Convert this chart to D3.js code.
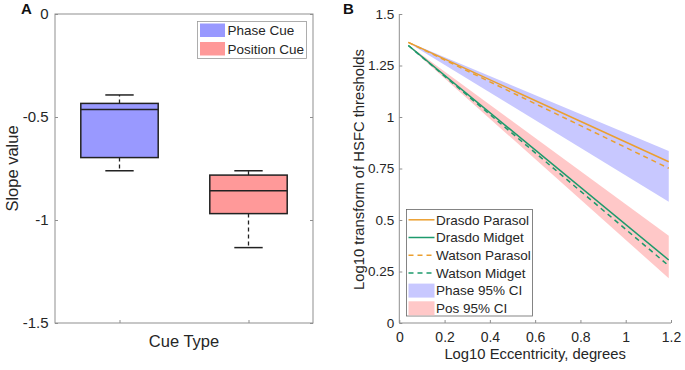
<!DOCTYPE html>
<html>
<head>
<meta charset="utf-8">
<script src="https://cdn.jsdelivr.net/npm/d3@7"></script>
<style>
  body { margin: 0; background: #fff; }
  svg { display: block; font-family: "Liberation Sans", Arial, sans-serif; }
</style>
</head>
<body>
<svg id="chart" width="685" height="370"></svg>
<script>
// ---- panel A data: box stats [lowWhisker, q1, median, q3, highWhisker]
var cueTypes = ["Phase Cue", "Position Cue"];
var phaseBox = [-0.761, -0.697, -0.464, -0.434, -0.393];
var positionBox = [-1.134, -0.969, -0.858, -0.782, -0.761];
var boxColors = ["#9999ff", "#ff9999"];
var slopeTicks = [0, -0.5, -1, -1.5];

// ---- panel B data
var eccX = [0.04, 1.19];
var drasdoParasol = [1.362, 0.783];
var drasdoMidget = [1.347, 0.306];
var watsonParasol = [1.362, 0.751];
var watsonMidget = [1.347, 0.278];
var phaseUpper = [1.364, 0.835];
var phaseLower = [1.360, 0.589];
var posUpper = [1.349, 0.424];
var posLower = [1.345, 0.217];
var eccTicks = [0, 0.2, 0.4, 0.6, 0.8, 1, 1.2];
var hsfcTicks = [0, 0.25, 0.5, 0.75, 1, 1.25, 1.5];

var svg = d3.select("#chart");
var axisCol = "#8f8f8f", textCol = "#262626";

function styleAxis(g){
	g.select(".domain").remove();
	g.selectAll(".tick line").attr("stroke", axisCol);
	g.selectAll(".tick text").attr("fill", textCol);
}

// ================= Panel A =================
var ax = {l: 55, r: 313, t: 14, b: 323};
var xA = d3.scaleLinear().domain([0.5, 2.5]).range([ax.l, ax.r]);
var yA = d3.scaleLinear().domain([-1.5, 0]).range([ax.b, ax.t]);

var gA = svg.append("g");
gA.append("rect")
	.attr("x", ax.l).attr("y", ax.t)
	.attr("width", ax.r - ax.l).attr("height", ax.b - ax.t)
	.attr("fill", "none").attr("stroke", axisCol).attr("stroke-width", 1);

gA.append("g").attr("transform", "translate(" + ax.l + ",0)")
	.call(d3.axisLeft(yA).tickValues(slopeTicks).tickFormat(function(d){ return String(d); })
		.tickSizeInner(-3).tickSizeOuter(0).tickPadding(6.5))
	.attr("font-size", 15).attr("font-family", null)
	.call(styleAxis);
gA.append("g").attr("transform", "translate(" + ax.r + ",0)")
	.call(d3.axisRight(yA).tickValues(slopeTicks).tickFormat("").tickSizeInner(-3).tickSizeOuter(0))
	.call(styleAxis);
gA.append("g").attr("transform", "translate(0," + ax.b + ")")
	.call(d3.axisBottom(xA).tickValues([1, 2]).tickFormat("").tickSizeInner(-3).tickSizeOuter(0))
	.call(styleAxis);

var boxes = [phaseBox, positionBox];
var halfW = 0.3, capW = 0.11;
boxes.forEach(function(s, i){
	var c = i + 1;
	var g = gA.append("g");
	// whiskers dashed
	g.append("line").attr("x1", xA(c)).attr("x2", xA(c))
		.attr("y1", yA(s[3])).attr("y2", yA(s[4]))
		.attr("stroke", "#222").attr("stroke-width", 1.3).attr("stroke-dasharray", "4,3");
	g.append("line").attr("x1", xA(c)).attr("x2", xA(c))
		.attr("y1", yA(s[1])).attr("y2", yA(s[0]))
		.attr("stroke", "#222").attr("stroke-width", 1.3).attr("stroke-dasharray", "4,3");
	// caps
	[s[0], s[4]].forEach(function(v){
		g.append("line").attr("x1", xA(c - capW)).attr("x2", xA(c + capW))
			.attr("y1", yA(v)).attr("y2", yA(v))
			.attr("stroke", "#222").attr("stroke-width", 1.5);
	});
	g.append("rect")
		.attr("x", xA(c - halfW)).attr("y", yA(s[3]))
		.attr("width", xA(c + halfW) - xA(c - halfW)).attr("height", yA(s[1]) - yA(s[3]))
		.attr("fill", boxColors[i]).attr("stroke", "#222").attr("stroke-width", 1.5);
	g.append("line").attr("x1", xA(c - halfW)).attr("x2", xA(c + halfW))
		.attr("y1", yA(s[2])).attr("y2", yA(s[2]))
		.attr("stroke", "#222").attr("stroke-width", 1.5);
});

// legend A
var legA = gA.append("g");
legA.append("rect").attr("x", 197.5).attr("y", 21.5).attr("width", 109).attr("height", 37)
	.attr("fill", "#fff").attr("stroke", "#9a9a9a").attr("stroke-width", 0.8);
cueTypes.forEach(function(name, i){
	legA.append("rect").attr("x", 200).attr("y", 23.5 + i * 18.5).attr("width", 25).attr("height", 13.5)
		.attr("fill", boxColors[i]);
	legA.append("text").attr("x", 227.5).attr("y", 35 + i * 18.5)
		.attr("font-size", 13.5).attr("fill", textCol).text(name);
});

gA.append("text").attr("x", (ax.l + ax.r) / 2).attr("y", 346.5)
	.attr("text-anchor", "middle").attr("font-size", 16.5).attr("fill", textCol).text("Cue Type");
gA.append("text").attr("transform", "translate(17.5," + ((ax.t + ax.b) / 2) + ") rotate(-90)")
	.attr("text-anchor", "middle").attr("font-size", 16.5).attr("fill", textCol).text("Slope value");
svg.append("text").attr("x", 21).attr("y", 14).attr("font-size", 15).attr("font-weight", 700)
	.attr("fill", "#111").text("A");

// ================= Panel B =================
var bx = {l: 399.3, r: 671, t: 14, b: 323};
var xB = d3.scaleLinear().domain([0, 1.2]).range([bx.l, bx.r]);
var yB = d3.scaleLinear().domain([0, 1.5]).range([bx.b, bx.t]);
var gB = svg.append("g");

var orange = "#eb9f2f", green = "#1d9a6c";
var bandData = [
	{up: phaseUpper, lo: phaseLower, fill: "#c8c8ff"},
	{up: posUpper, lo: posLower, fill: "#ffc8c8"}
];
var area = d3.area()
	.x(function(d){ return xB(d.x); })
	.y0(function(d){ return yB(d.lo); })
	.y1(function(d){ return yB(d.up); });
bandData.forEach(function(b){
	var pts = eccX.map(function(x, i){ return {x: x, up: b.up[i], lo: b.lo[i]}; });
	gB.append("path").attr("d", area(pts)).attr("fill", b.fill).attr("stroke", "none");
});

var line = d3.line().x(function(d){ return xB(d[0]); }).y(function(d){ return yB(d[1]); });
var series = [
	{name: "Drasdo Parasol", v: drasdoParasol, col: orange, dash: null},
	{name: "Drasdo Midget", v: drasdoMidget, col: green, dash: null},
	{name: "Watson Parasol", v: watsonParasol, col: orange, dash: "5,4"},
	{name: "Watson Midget", v: watsonMidget, col: green, dash: "5,4"}
];
series.forEach(function(s){
	gB.append("path").attr("d", line(eccX.map(function(x, i){ return [x, s.v[i]]; })))
		.attr("fill", "none").attr("stroke", s.col).attr("stroke-width", 1.5)
		.attr("stroke-dasharray", s.dash);
});

gB.append("line").attr("x1", bx.l).attr("x2", bx.l).attr("y1", bx.t).attr("y2", bx.b)
	.attr("stroke", axisCol);
gB.append("line").attr("x1", bx.l).attr("x2", bx.r).attr("y1", bx.b).attr("y2", bx.b)
	.attr("stroke", axisCol);
gB.append("g").attr("transform", "translate(" + bx.l + ",0)")
	.call(d3.axisLeft(yB).tickValues(hsfcTicks).tickFormat(function(d){ return String(d); })
		.tickSizeInner(-3).tickSizeOuter(0).tickPadding(5))
	.attr("font-size", 13.5).attr("font-family", null)
	.call(styleAxis);
gB.append("g").attr("transform", "translate(0," + bx.b + ")")
	.call(d3.axisBottom(xB).tickValues(eccTicks).tickFormat(function(d){ return String(d); })
		.tickSizeInner(-3).tickSizeOuter(0).tickPadding(9))
	.attr("font-size", 14).attr("font-family", null)
	.call(styleAxis);

// legend B
var legB = gB.append("g");
legB.append("rect").attr("x", 406.5).attr("y", 209.5).attr("width", 126).attr("height", 106.5)
	.attr("fill", "#fff").attr("stroke", "#666").attr("stroke-width", 0.8);
var rowY = function(i){ return 219.8 + i * 17.7; };
series.forEach(function(s, i){
	legB.append("line").attr("x1", 408.5).attr("x2", 434.5).attr("y1", rowY(i)).attr("y2", rowY(i))
		.attr("stroke", s.col).attr("stroke-width", 1.5).attr("stroke-dasharray", s.dash);
	legB.append("text").attr("x", 436).attr("y", rowY(i) + 4.8)
		.attr("font-size", 13.5).attr("fill", textCol).text(s.name);
});
["Phase 95% CI", "Pos 95% CI"].forEach(function(name, j){
	var i = j + 4;
	legB.append("rect").attr("x", 408.5).attr("y", rowY(i) - 7).attr("width", 26).attr("height", 14)
		.attr("fill", bandData[j].fill);
	legB.append("text").attr("x", 436).attr("y", rowY(i) + 4.8)
		.attr("font-size", 13.5).attr("fill", textCol).text(name);
});

gB.append("text").attr("x", (bx.l + bx.r) / 2).attr("y", 359)
	.attr("text-anchor", "middle").attr("font-size", 14.8).attr("fill", textCol)
	.text("Log10 Eccentricity, degrees");
gB.append("text").attr("transform", "translate(363.5," + ((bx.t + bx.b) / 2 + 1) + ") rotate(-90)")
	.attr("text-anchor", "middle").attr("font-size", 14.8).attr("fill", textCol)
	.text("Log10 transform of HSFC thresholds");
svg.append("text").attr("x", 343).attr("y", 14).attr("font-size", 15).attr("font-weight", 700)
	.attr("fill", "#111").text("B");
</script>
</body>
</html>
